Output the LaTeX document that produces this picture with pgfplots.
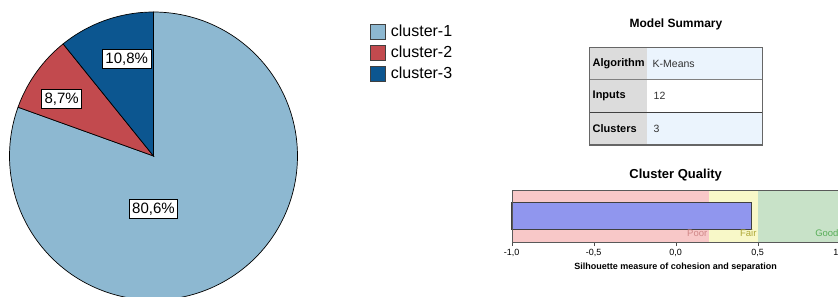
\documentclass[border=0pt]{standalone}
\usepackage{pgfplots}
\pgfplotsset{compat=1.18}
\usepackage{pgfplotstable}
\usepackage{fontspec}
\setmainfont{Liberation Sans}
\definecolor{cA}{HTML}{8DB8D1}
\definecolor{cB}{HTML}{C24A4E}
\definecolor{cC}{HTML}{0C5690}
\definecolor{gcol}{HTML}{DCDCDC}
\definecolor{vcol}{HTML}{EBF4FD}
\definecolor{poor}{HTML}{F8C8C8}
\definecolor{fair}{HTML}{F8F8C8}
\definecolor{good}{HTML}{C8E2C8}
\definecolor{barc}{HTML}{9096EE}
\definecolor{poort}{HTML}{D08888}
\definecolor{fairt}{HTML}{AEA838}
\definecolor{goodt}{HTML}{58AE58}

\pgfplotstableread{
cluster share
1 80.6
2 8.7
3 10.8
}\piedata
\pgfplotstablegetelem{0}{share}\of\piedata\edef\va{\pgfplotsretval}
\pgfplotstablegetelem{1}{share}\of\piedata\edef\vb{\pgfplotsretval}
\pgfplotstablegetelem{2}{share}\of\piedata\edef\vc{\pgfplotsretval}
\pgfmathsetmacro\aC{90+3.6*\vc}
\pgfmathsetmacro\aB{\aC+3.6*\vb}

\begin{document}
\begin{tikzpicture}[x=1pt,y=1pt]
\useasboundingbox (0,0) rectangle (838,297);
% ---------------- pie ----------------
\begin{axis}[at={(153.5pt,141pt)}, anchor=center, scale only axis,
  width=288pt, height=288pt, xmin=-1, xmax=1, ymin=-1, ymax=1,
  hide axis, clip=false,
  legend style={at={(1.252,0.962)}, anchor=north west, draw=none, fill=none,
    font=\fontsize{16}{18}\selectfont, row sep=3pt, column sep=4pt, inner sep=0pt,
    nodes={inner sep=1pt, text height=12pt, text depth=4pt}},
  legend cell align=left,
  legend image code/.code={\draw[#1, draw=black!75, line width=0.6pt] (0pt,-7.5pt) rectangle (15pt,7.5pt);},
]
\addplot[fill=cA, draw=black, line width=0.7pt, domain=\aB:450, samples=160] ({cos(x)},{sin(x)}) -- (axis cs:0,0) -- cycle;
\addlegendentry{cluster-1}
\addplot[fill=cB, draw=black, line width=0.7pt, domain=\aC:\aB, samples=30] ({cos(x)},{sin(x)}) -- (axis cs:0,0) -- cycle;
\addlegendentry{cluster-2}
\addplot[fill=cC, draw=black, line width=0.7pt, domain=90:\aC, samples=30] ({cos(x)},{sin(x)}) -- (axis cs:0,0) -- cycle;
\addlegendentry{cluster-3}
\tikzset{pl/.style={draw=black, fill=white, line width=0.6pt, inner xsep=3pt, inner ysep=3pt, font=\fontsize{15}{18}\selectfont}}
\node[pl] at (axis cs:-0.186,0.674) {10,8\%};
\node[pl] at (axis cs:-0.6375,0.396) {8,7\%};
\node[pl] at (axis cs:0,-0.368) {80,6\%};
\end{axis}
% ---------------- model summary ----------------
\node[font=\bfseries\fontsize{12}{14}\selectfont] at (676,273) {Model Summary};
\fill[gcol] (589.5,152) rectangle (647,249.5);
\fill[vcol] (647,217.5) rectangle (762.5,249.5);
\fill[white] (647,184.5) rectangle (762.5,217.5);
\fill[vcol] (647,152) rectangle (762.5,184.5);
\draw[black!50, line width=1.2pt] (589.5,217.5) -- (762.5,217.5);
\draw[black!75, line width=1.2pt] (589.5,184.5) -- (762.5,184.5);
\draw[black!60, line width=1.2pt] (589.5,152) rectangle (762.5,249.5);
\tikzset{hd/.style={anchor=west, inner sep=0pt, font=\bfseries\fontsize{11}{13}\selectfont},
         vl/.style={anchor=west, inner sep=0pt, text=black!80, font=\fontsize{10.5}{13}\selectfont}}
\node[hd] at (592.5,233.5) {Algorithm};
\node[hd] at (592.5,201) {Inputs};
\node[hd] at (592.5,168.3) {Clusters};
\node[vl] at (652.5,233.5) {K-Means};
\node[vl] at (653.5,201) {12};
\node[vl] at (653.5,168.3) {3};
% ---------------- cluster quality ----------------
\node[font=\bfseries\fontsize{13}{15}\selectfont] at (675.7,122) {Cluster Quality};
\begin{axis}[at={(511.7pt,55pt)}, anchor=south west, scale only axis,
  width=328pt, height=51.3pt, xmin=-1, xmax=1, ymin=0, ymax=1,
  ytick=\empty, xtick={-1,-0.5,0,0.5,1}, xtick pos=bottom,
  tick align=outside, major tick length=4pt,
  axis line style={draw=black!65}, tick style={draw=black!70},
  xticklabel style={font=\fontsize{9}{10}\selectfont, /pgf/number format/.cd, use comma, fixed, fixed zerofill, precision=1, assume math mode=true},
  axis on top, clip=false]
\addplot[fill=poor, draw=none] coordinates {(-1,0) (0.2,0) (0.2,1) (-1,1)} -- cycle;
\addplot[fill=fair, draw=none] coordinates {(0.2,0) (0.5,0) (0.5,1) (0.2,1)} -- cycle;
\addplot[fill=good, draw=none] coordinates {(0.5,0) (1,0) (1,1) (0.5,1)} -- cycle;
\addplot[fill=barc, draw=black!75, line width=1pt] coordinates {(-1,0.25) (0.46,0.25) (0.46,0.765) (-1,0.765)} -- cycle;
\tikzset{bl/.style={anchor=east, inner sep=1pt, font=\fontsize{9.5}{10}\selectfont}}
\node[bl, text=poort] at (axis cs:0.2,0.175) {Poor};
\node[bl, text=fairt] at (axis cs:0.5,0.175) {Fair};
\node[bl, text=goodt] at (axis cs:1,0.175) {Good};
\end{axis}
\node[font=\bfseries\fontsize{9}{10}\selectfont] at (675.7,30.3) {Silhouette measure of cohesion and separation};
\end{tikzpicture}
\end{document}
